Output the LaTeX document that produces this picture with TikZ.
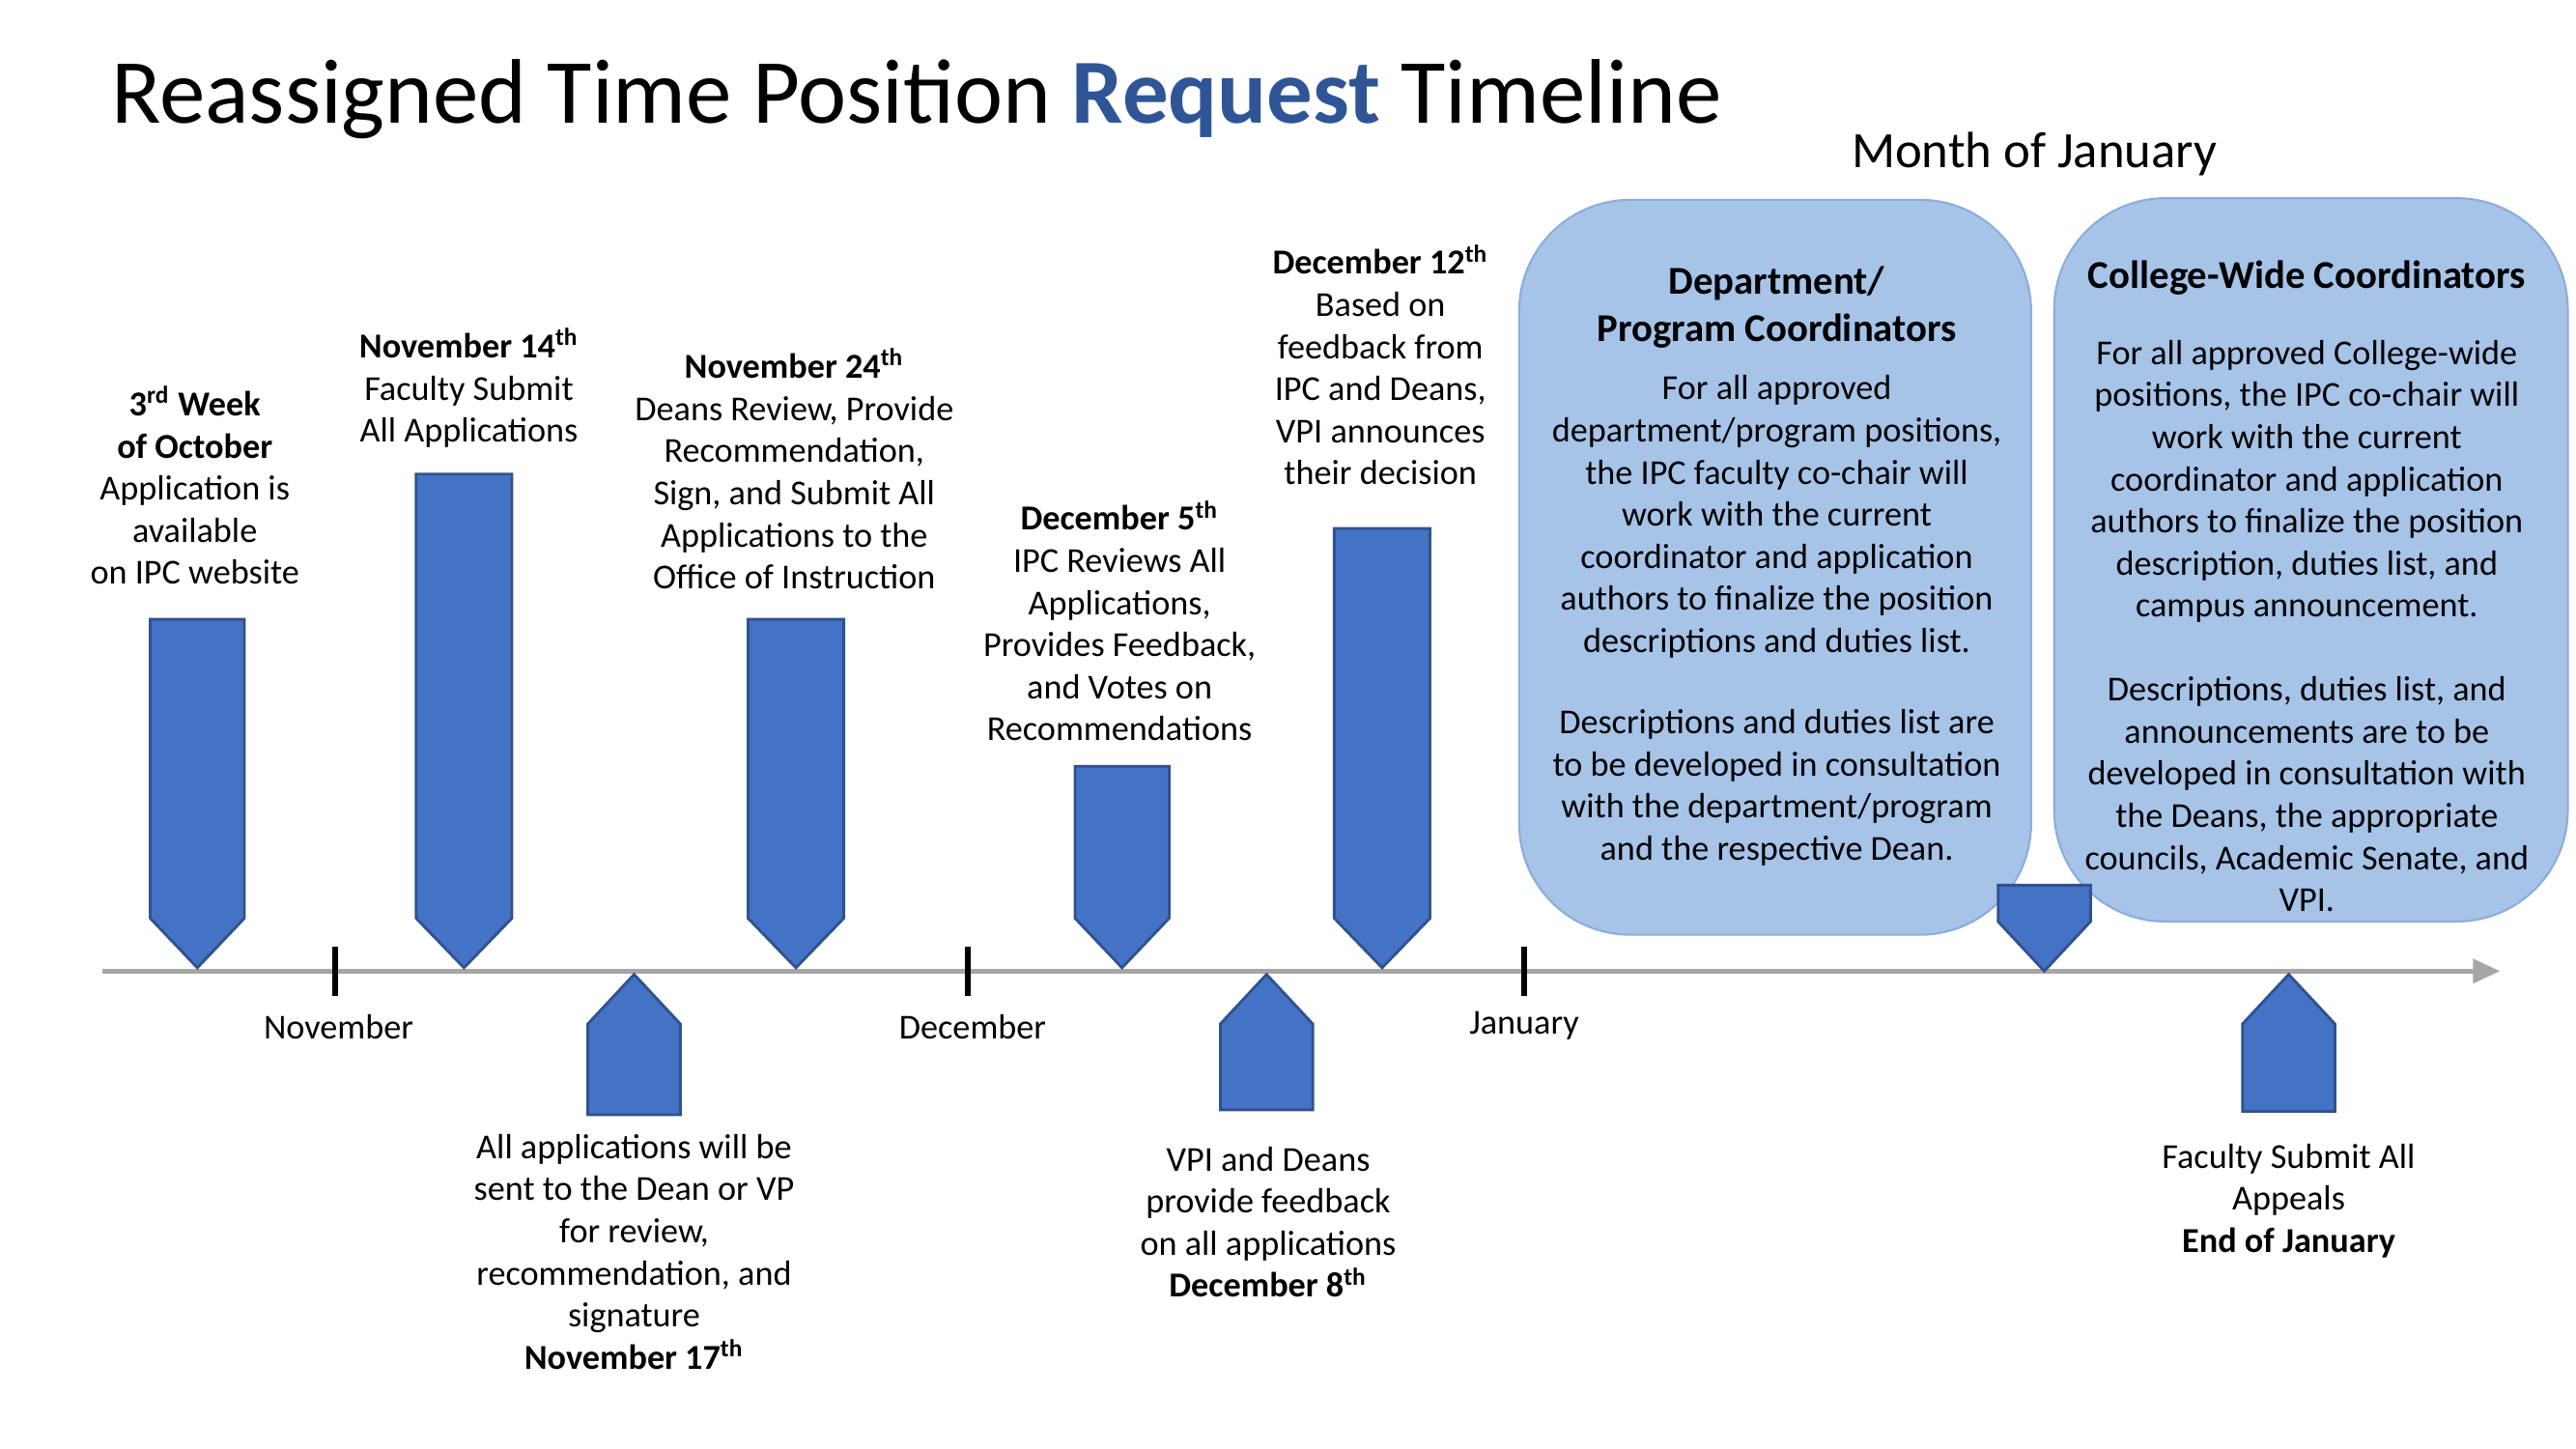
\documentclass[tikz,border=0pt]{standalone}
\usepackage{fontspec}
\setmainfont{Carlito}
\usetikzlibrary{arrows.meta}
\definecolor{ablue}{RGB}{68,114,196}
\definecolor{aedge}{RGB}{47,82,143}
\definecolor{boxfill}{RGB}{166,196,232}
\definecolor{boxedge}{RGB}{140,172,222}
\definecolor{titleblue}{RGB}{47,85,151}
\tikzset{
  x=0.017096cm,y=-0.017096cm,
  body/.style={align=center,font=\fontsize{10.3}{12.4}\selectfont,inner sep=0pt},
  head/.style={align=center,font=\fontsize{11.6}{13.9}\selectfont\bfseries,inner sep=0pt},
  marker/.style={fill=ablue,draw=aedge,line width=0.8pt},
  rbox/.style={fill=boxfill,draw=boxedge,line width=0.6pt,rounded corners=1.15cm},
  tick/.style={line width=1.6pt,black},
}
\newcommand{\downarr}[5]{% name, xl, xr, top, tip
  \draw[marker] (#2,#4) -- (#3,#4) -- (#3,#5-30) -- ({(#2+#3)/2},#5) -- (#2,#5-30) -- cycle;
  \coordinate (#1) at ({(#2+#3)/2},#5);}
\newcommand{\uparr}[5]{% name, xl, xr, tip, bottom
  \draw[marker] (#2,#5) -- (#3,#5) -- (#3,#4+30) -- ({(#2+#3)/2},#4) -- (#2,#4+30) -- cycle;
  \coordinate (#1) at ({(#2+#3)/2},#4);}
\begin{document}
\begin{tikzpicture}
\useasboundingbox[fill=white] (0,0) rectangle (1560,877);
% title
\node[anchor=west,inner sep=0pt,font=\fontsize{27}{32}\selectfont] (title) at (67,60) {Reassigned Time Position \textcolor{titleblue}{\bfseries Request} Timeline};
\node[inner sep=0pt,font=\fontsize{15}{18}\selectfont] (month) at (1232,93) {Month of January};
% boxes
\draw[rbox] (920,121) rectangle (1230,566);
\draw[rbox] (1244,120) rectangle (1555,558);
% timeline
\coordinate (tl0) at (62,588);
\coordinate (tl1) at (1514,588);
\draw[gray!70,line width=1.4pt,-{Triangle[length=8pt,width=7pt]}] (tl0) -- (tl1);
\coordinate (t1a) at (203,573); \coordinate (t1b) at (203,603);
\coordinate (t2a) at (586,573); \coordinate (t2b) at (586,603);
\coordinate (t3a) at (923,573); \coordinate (t3b) at (923,603);
\draw[tick] (t1a) -- (t1b); \draw[tick] (t2a) -- (t2b); \draw[tick] (t3a) -- (t3b);
\node[body] (nov) at (205,622) {November};
\node[body] (dec) at (589,622) {December};
\node[body] (jan) at (923,621) {January};
% markers
\downarr{d1}{91}{148}{375}{586}
\downarr{d2}{252}{310}{287}{586}
\downarr{d3}{453}{511}{375}{586}
\downarr{d4}{651}{708}{464}{586}
\downarr{d5}{808}{866}{320}{586}
\downarr{d6}{1210}{1266}{536}{588}
\uparr{u1}{356}{412}{590}{675}
\uparr{u2}{739}{795}{590}{672}
\uparr{u3}{1358}{1414}{590}{673}
% texts
\node[body] (t1) at (118,294) {\textbf{3\textsuperscript{rd} Week}\\\textbf{of October}\\Application is\\available\\on IPC website};
\node[body] (t2) at (284,235) {\textbf{November 14\textsuperscript{th}}\\Faculty Submit\\All Applications};
\node[body] (t3) at (481,284) {\textbf{November 24\textsuperscript{th}}\\Deans Review, Provide\\Recommendation,\\Sign, and Submit All\\Applications to the\\Office of Instruction};
\node[body] (t4) at (678,376) {\textbf{December 5\textsuperscript{th}}\\IPC Reviews All\\Applications,\\Provides Feedback,\\and Votes on\\Recommendations};
\node[body] (t5) at (836,221) {\textbf{December 12\textsuperscript{th}}\\Based on\\feedback from\\IPC and Deans,\\VPI announces\\their decision};
\node[body] (t6) at (384,758) {All applications will be\\sent to the Dean or VP\\for review,\\recommendation, and\\signature\\\textbf{November 17\textsuperscript{th}}};
\node[body] (t7) at (768,740) {VPI and Deans\\provide feedback\\on all applications\\\textbf{December 8\textsuperscript{th}}};
\node[body] (t8) at (1386,727) {Faculty Submit All\\Appeals\\\textbf{End of January}};
% box texts
\node[head] (h1) at (1076,186) {Department/\\Program Coordinators};
\node[body] (b1) at (1076,313) {For all approved\\department/program positions,\\the IPC faculty co-chair will\\work with the current\\coordinator and application\\authors to finalize the position\\descriptions and duties list.};
\node[body] (b2) at (1076,477) {Descriptions and duties list are\\to be developed in consultation\\with the department/program\\and the respective Dean.};
\node[head] (h2) at (1397,168) {College-Wide Coordinators};
\node[body] (b3) at (1397,291.5) {For all approved College-wide\\positions, the IPC co-chair will\\work with the current\\coordinator and application\\authors to finalize the position\\description, duties list, and\\campus announcement.};
\node[body] (b4) at (1397,481) {Descriptions, duties list, and\\announcements are to be\\developed in consultation with\\the Deans, the appropriate\\councils, Academic Senate, and\\VPI.};
\end{tikzpicture}
\end{document}
